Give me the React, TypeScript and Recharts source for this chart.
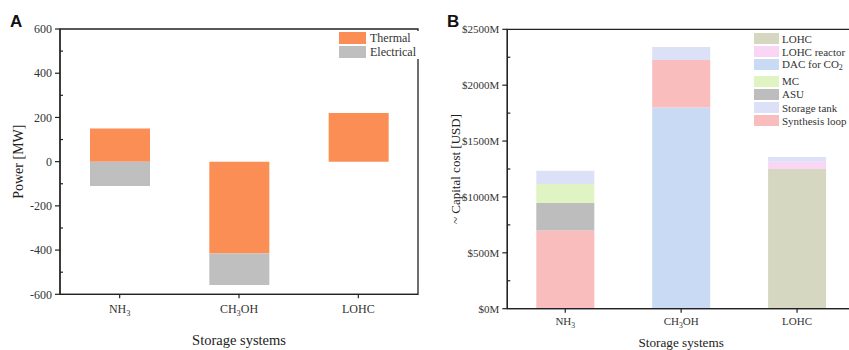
import React from 'react';
import { BarChart, Bar, XAxis, YAxis, Legend, ReferenceArea, Label } from 'recharts';

// ---------- data ----------
const categories = ['NH3', 'CH3OH', 'LOHC'];

// Panel A: power [MW]
const thermalMW = [150, -415, 220];
const electricalMW = [-110, -143, 0];
const powerTicks = [-600, -500, -400, -300, -200, -100, 0, 100, 200, 300, 400, 500, 600];

// Panel B: capital cost [M USD]
const dacCost = [0, 1800, 0];
const lohcCost = [0, 0, 1250];
const lohcReactorCost = [0, 0, 65];
const synthesisLoopCost = [700, 425, 0];
const asuCost = [245, 0, 0];
const mcCost = [170, 0, 0];
const storageTankCost = [120, 117, 42];
const costTicks = [0, 250, 500, 750, 1000, 1250, 1500, 1750, 2000, 2250, 2500];

const seriesA = [
  { key: 'Thermal', values: thermalMW, color: '#FB8E55' },
  { key: 'Electrical', values: electricalMW, color: '#BFBFBF' },
];

// stacking order (bottom to top)
const seriesB = [
  { key: 'DAC for CO2', values: dacCost, color: '#C9DAF4' },
  { key: 'LOHC', values: lohcCost, color: '#D5D7C1' },
  { key: 'LOHC reactor', values: lohcReactorCost, color: '#FAD6F5' },
  { key: 'Synthesis loop', values: synthesisLoopCost, color: '#F9BDBD' },
  { key: 'ASU', values: asuCost, color: '#BDBDBD' },
  { key: 'MC', values: mcCost, color: '#DFF4C2' },
  { key: 'Storage tank', values: storageTankCost, color: '#DDE1F8' },
];
const legendOrderB = ['LOHC', 'LOHC reactor', 'DAC for CO2', 'MC', 'ASU', 'Storage tank', 'Synthesis loop'];

const dataA = categories.map((name, i) => {
  const row: Record<string, any> = { name };
  seriesA.forEach((s) => (row[s.key] = s.values[i]));
  return row;
});
const dataB = categories.map((name, i) => {
  const row: Record<string, any> = { name };
  seriesB.forEach((s) => (row[s.key] = s.values[i]));
  return row;
});

// ---------- style ----------
const SERIF = '"Liberation Serif", "Times New Roman", serif';
const SANS = '"Liberation Sans", Arial, sans-serif';
const AXIS = '#222';
const TXT = '#333';

function chemSpans(text: string, fs: number) {
  const parts = text.split(/(\d+)/).filter(Boolean);
  let prevSub = false;
  return parts.map((p, i) => {
    const isSub = /^\d+$/.test(p);
    let dy: number | undefined = undefined;
    if (isSub) dy = fs * 0.28;
    else if (prevSub) dy = -fs * 0.28;
    prevSub = isSub;
    return (
      <tspan key={i} dy={dy} fontSize={isSub ? fs * 0.7 : fs}>
        {p}
      </tspan>
    );
  });
}

const makeXTick = (fs: number) => (props: any) => {
  const { x, y, payload } = props;
  return (
    <text x={x} y={y + fs * 0.71} textAnchor="middle" style={{ fontFamily: SERIF }} fontSize={fs} fill={TXT}>
      {chemSpans(String(payload.value), fs)}
    </text>
  );
};

const makeYTick = (fs: number, majorStep: number, fmt: (v: number) => string, size: number, margin: number) => (props: any) => {
  const { x, y, payload } = props;
  const v = payload.value as number;
  const ax = x + size + margin;
  if (v % majorStep === 0) {
    return (
      <g>
        <line x1={ax - size} x2={ax} y1={y} y2={y} stroke={AXIS} strokeWidth={1.2} />
        <text x={x} y={y + fs * 0.355} textAnchor="end" style={{ fontFamily: SERIF }} fontSize={fs} fill={TXT}>
          {fmt(v)}
        </text>
      </g>
    );
  }
  return <line x1={ax} x2={ax + 3} y1={y} y2={y} stroke={AXIS} strokeWidth={1.2} />;
};

const LegendA = () => (
  <div style={{ fontFamily: SERIF, fontSize: 12, color: TXT, background: '#fff' }}>
    {seriesA.map((s) => (
      <div key={s.key} style={{ display: 'flex', alignItems: 'center', height: 14 }}>
        <span style={{ display: 'inline-block', width: 27, height: 12, background: s.color, marginRight: 4 }} />
        <span>{s.key}</span>
      </div>
    ))}
  </div>
);

const LegendB = () => (
  <div style={{ fontFamily: SERIF, fontSize: 11, color: TXT }}>
    {legendOrderB.map((k) => {
      const s = seriesB.find((x) => x.key === k)!;
      const label =
        k === 'DAC for CO2' ? (
          <span>
            DAC for CO<sub style={{ fontSize: 8, verticalAlign: '-2px' }}>2</sub>
          </span>
        ) : (
          <span>{k}</span>
        );
      return (
        <div
          key={k}
          style={{ display: 'flex', alignItems: 'center', height: 13.2, marginBottom: k === 'DAC for CO2' ? 3 : 0, whiteSpace: 'nowrap' }}
        >
          <span style={{ display: 'inline-block', width: 25, height: 11, background: s.color, marginRight: 3 }} />
          {label}
        </div>
      );
    })}
  </div>
);

export default function App() {
  return (
    <div style={{ position: 'absolute', left: 0, top: 0, width: 849, height: 350, overflow: 'hidden', background: '#fff' }}>
      {/* Panel A */}
      <div style={{ position: 'absolute', left: 0, top: 0, width: 430, height: 350 }}>
        <BarChart width={430} height={350} data={dataA} stackOffset="sign" margin={{ top: 29, right: 12, bottom: 0, left: 0 }}>
          <XAxis
            dataKey="name"
            height={55.7}
            interval={0}
            axisLine={{ stroke: AXIS, strokeWidth: 1.3 }}
            tickLine={{ stroke: AXIS, strokeWidth: 1.2 }}
            tickSize={4}
            tickMargin={6}
            tick={makeXTick(12)}
          >
            <Label
              value="Storage systems"
              position="insideBottom"
              offset={5}
              fontSize={14.5}
              fill="#222"
              style={{ fontFamily: SERIF }}
            />
          </XAxis>
          <YAxis
            type="number"
            domain={[-600, 600]}
            ticks={powerTicks}
            interval={0}
            width={60}
            axisLine={{ stroke: AXIS, strokeWidth: 1.3 }}
            tickLine={false}
            tickSize={5}
            tickMargin={3}
            tick={makeYTick(12, 200, (v) => String(v), 5, 3)}
          >
            <Label
              value="Power [MW]"
              angle={-90}
              position="insideLeft"
              offset={18}
              fontSize={14}
              fill="#222"
              style={{ textAnchor: 'middle', fontFamily: SERIF }}
            />
          </YAxis>
          {seriesA.map((s) => (
            <Bar key={s.key} dataKey={s.key} stackId="a" fill={s.color} barSize={60} isAnimationActive={false} />
          ))}
          <ReferenceArea y1={-600} y2={600} fill="none" stroke={AXIS} strokeWidth={1.3} fillOpacity={0} />
          <Legend
            layout="vertical"
            align="center"
            verticalAlign="middle"
            content={<LegendA />}
            wrapperStyle={{ left: 339, top: 31, width: 80 }}
          />
        </BarChart>
        <div style={{ position: 'absolute', left: 10, top: 12, fontFamily: SANS, fontWeight: 'bold', fontSize: 17, color: '#111' }}>A</div>
      </div>

      {/* Panel B */}
      <div style={{ position: 'absolute', left: 430, top: 0, width: 430, height: 350 }}>
        <BarChart width={430} height={350} data={dataB} margin={{ top: 29.3, right: 5, bottom: 0, left: 0 }}>
          <XAxis
            dataKey="name"
            height={41.3}
            interval={0}
            axisLine={{ stroke: AXIS, strokeWidth: 1.3 }}
            tickLine={{ stroke: AXIS, strokeWidth: 1.2 }}
            tickSize={4}
            tickMargin={4.5}
            tick={makeXTick(11)}
          >
            <Label
              value="Storage systems"
              position="insideBottom"
              offset={3.5}
              fontSize={13.2}
              fill="#222"
              style={{ fontFamily: SERIF }}
            />
          </XAxis>
          <XAxis
            xAxisId="top"
            orientation="top"
            type="number"
            domain={[0, 3]}
            ticks={[1, 2]}
            height={0}
            axisLine={false}
            tick={false}
            tickLine={{ stroke: AXIS, strokeWidth: 1.2 }}
            tickSize={3}
            mirror
          />
          <YAxis
            type="number"
            domain={[0, 2500]}
            ticks={costTicks}
            interval={0}
            width={77.3}
            axisLine={{ stroke: AXIS, strokeWidth: 1.3 }}
            tickLine={false}
            tickSize={5}
            tickMargin={3}
            tick={makeYTick(11, 500, (v) => `$${v}M`, 5, 3)}
          >
            <Label
              value="~ Capital cost [USD]"
              angle={-90}
              position="insideLeft"
              offset={25.5}
              fontSize={13}
              fill="#222"
              style={{ textAnchor: 'middle', fontFamily: SERIF }}
            />
          </YAxis>
          {seriesB.map((s) => (
            <Bar key={s.key} dataKey={s.key} stackId="b" fill={s.color} barSize={58} isAnimationActive={false} />
          ))}
          <ReferenceArea y1={0} y2={2500} fill="none" stroke={AXIS} strokeWidth={1.3} fillOpacity={0} />
          <Legend
            layout="vertical"
            align="center"
            verticalAlign="middle"
            content={<LegendB />}
            wrapperStyle={{ left: 324, top: 32, width: 100 }}
          />
        </BarChart>
        <div style={{ position: 'absolute', left: 17, top: 12, fontFamily: SANS, fontWeight: 'bold', fontSize: 17, color: '#111' }}>B</div>
      </div>
    </div>
  );
}
